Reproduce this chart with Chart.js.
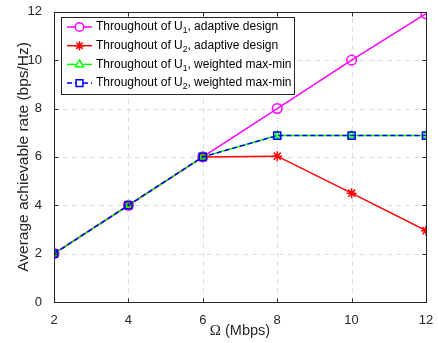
<!DOCTYPE html>
<html>
<head>
<meta charset="utf-8">
<script src="https://cdn.jsdelivr.net/npm/chart.js@4/dist/chart.umd.min.js"></script>
<style>
  html, body { margin: 0; padding: 0; background: #fff; }
  #wrap { width: 438px; height: 343px; }
</style>
</head>
<body>
<div id="wrap"><canvas id="c" width="438" height="343"></canvas></div>
<script>
// x values (Mbps) and rates (bps/Hz)
const omega = [2, 4, 6, 8, 10, 12];
const u1Adaptive = [2, 4, 6, 8, 10, 11.92];
const u2Adaptive = [2, 4, 6, 6.03, 4.5, 2.95];
const u1Weighted = [2, 4, 6, 6.88, 6.88, 6.88];
const u2Weighted = [2, 4, 6, 6.88, 6.88, 6.88];
const yTicks = [0, 2, 4, 6, 8, 10, 12];

const legendItems = [
  { user: '1', tail: ', adaptive design', color: '#ff00ff', marker: 'circle', r: 4.3, dash: [] },
  { user: '2', tail: ', adaptive design', color: '#ff0000', marker: 'star', r: 4.5, dash: [] },
  { user: '1', tail: ', weighted max-min', color: '#00ff00', marker: 'triangle', r: 4.5, dash: [] },
  { user: '2', tail: ', weighted max-min', color: '#0000ff', marker: 'rect', r: 4.8, dash: [5, 3] }
];

const FONT = '"Liberation Sans", Arial, Helvetica, sans-serif';
const SERIF = '"Liberation Serif", "Times New Roman", serif';

function pts(ys) {
  return omega.map((x, i) => ({ x: x, y: ys[i] }));
}

function series(ys, color, marker, radius, dash, order) {
  return {
    data: pts(ys),
    borderColor: color,
    backgroundColor: 'rgba(0,0,0,0)',
    borderWidth: 1.5,
    borderDash: dash,
    pointStyle: marker,
    pointRadius: radius,
    pointBorderColor: color,
    pointBorderWidth: 1.5,
    pointBackgroundColor: 'rgba(0,0,0,0)',
    tension: 0,
    order: order
  };
}

// dashed grid behind the lines
const gridPlugin = {
  id: 'dashGrid',
  beforeDatasetsDraw(chart) {
    const { ctx, chartArea: a, scales } = chart;
    ctx.save();
    ctx.strokeStyle = '#dedede';
    ctx.lineWidth = 1;
    ctx.setLineDash([5, 4]);
    ctx.beginPath();
    omega.forEach(v => {
      const x = Math.round(scales.x.getPixelForValue(v)) + 0.5;
      ctx.moveTo(x, a.bottom); ctx.lineTo(x, a.top);
    });
    yTicks.forEach(v => {
      const y = Math.round(scales.y.getPixelForValue(v)) + 0.5;
      ctx.moveTo(a.left, y); ctx.lineTo(a.right, y);
    });
    ctx.stroke();
    ctx.restore();
  }
};

// axes frame with inward ticks on all four sides, plus the x label
const framePlugin = {
  id: 'frame',
  afterDatasetsDraw(chart) {
    const { ctx, chartArea: a, scales } = chart;
    ctx.save();
    ctx.strokeStyle = '#262626';
    ctx.lineWidth = 1;
    ctx.setLineDash([]);
    const l = Math.round(a.left) + 0.5, r = Math.round(a.right) + 0.5;
    const t0 = Math.round(a.top) + 0.5, b = Math.round(a.bottom) + 0.5;
    ctx.strokeRect(l, t0, r - l, b - t0);
    const t = 4;
    ctx.beginPath();
    omega.forEach(v => {
      const x = Math.round(scales.x.getPixelForValue(v)) + 0.5;
      ctx.moveTo(x, b); ctx.lineTo(x, b - t);
      ctx.moveTo(x, t0); ctx.lineTo(x, t0 + t);
    });
    yTicks.forEach(v => {
      const y = Math.round(scales.y.getPixelForValue(v)) + 0.5;
      ctx.moveTo(l, y); ctx.lineTo(l + t, y);
      ctx.moveTo(r, y); ctx.lineTo(r - t, y);
    });
    ctx.stroke();

    // x label: serif Omega followed by the unit
    const sym = 'Ω', unit = ' (Mbps)';
    ctx.fillStyle = '#262626';
    ctx.textBaseline = 'alphabetic';
    ctx.font = '15px ' + SERIF;
    const w1 = ctx.measureText(sym).width;
    ctx.font = '14.5px ' + FONT;
    const w2 = ctx.measureText(unit).width;
    const cx = (a.left + a.right) / 2;
    let x = cx - (w1 + w2) / 2;
    const y = 335;
    ctx.font = '15px ' + SERIF;
    ctx.fillText(sym, x, y);
    ctx.font = '14.5px ' + FONT;
    ctx.fillText(unit, x + w1, y);
    ctx.restore();
  }
};

// legend box with subscripted user index
const legendPlugin = {
  id: 'subLegend',
  afterDraw(chart) {
    const ctx = chart.ctx;
    const bx = 61.5, by = 17.5, bw = 233, bh = 77;
    ctx.save();
    ctx.fillStyle = '#fff';
    ctx.fillRect(bx, by, bw, bh);
    ctx.strokeStyle = '#262626';
    ctx.lineWidth = 1;
    ctx.strokeRect(bx, by, bw, bh);
    const rowH = 18.7;
    legendItems.forEach((it, i) => {
      const y = by + 9.5 + i * rowH;
      ctx.strokeStyle = it.color;
      ctx.lineWidth = 1.5;
      ctx.setLineDash(it.dash);
      ctx.beginPath();
      ctx.moveTo(67, y); ctx.lineTo(92, y);
      ctx.stroke();
      ctx.setLineDash([]);
      ctx.fillStyle = '#fff';
      Chart.helpers.drawPoint(ctx, { pointStyle: it.marker, radius: it.r, borderWidth: 1.5 }, 79.5, y);
      ctx.fillStyle = '#000';
      ctx.textBaseline = 'middle';
      ctx.font = '12px ' + FONT;
      let x = 96;
      const head = 'Throughout of U';
      ctx.fillText(head, x, y);
      x += ctx.measureText(head).width;
      ctx.font = '8.5px ' + FONT;
      ctx.fillText(it.user, x, y + 4);
      x += ctx.measureText(it.user).width;
      ctx.font = '12px ' + FONT;
      ctx.fillText(it.tail, x, y);
    });
    ctx.restore();
  }
};

new Chart(document.getElementById('c'), {
  type: 'line',
  data: {
    datasets: [
      series(u1Adaptive, '#ff00ff', 'circle', 4.8, [], 3),
      series(u2Adaptive, '#ff0000', 'star', 5, [], 2),
      series(u1Weighted, '#00ff00', 'triangle', 4.3, [], 1),
      series(u2Weighted, '#0000ff', 'rect', 5, [5, 3], 0)
    ]
  },
  options: {
    responsive: false,
    animation: false,
    layout: { padding: { top: 10, right: 12, left: 0, bottom: 0 } },
    plugins: { legend: { display: false }, tooltip: { enabled: false } },
    scales: {
      x: {
        type: 'linear',
        min: 2, max: 12,
        afterBuildTicks(s) { s.ticks = omega.map(v => ({ value: v })); },
        afterFit(s) { s.height = 41; },
        grid: { display: false },
        border: { display: false },
        ticks: { color: '#262626', padding: 3, maxRotation: 0, font: { family: FONT, size: 13 } }
      },
      y: {
        type: 'linear',
        min: 0, max: 12,
        afterBuildTicks(s) { s.ticks = yTicks.map(v => ({ value: v })); },
        afterFit(s) { s.width = 54; },
        grid: { display: false },
        border: { display: false },
        ticks: { color: '#262626', padding: 4, font: { family: FONT, size: 13 } },
        title: { display: true, text: 'Average achievable rate (bps/Hz)', color: '#262626', padding: { top: 14, bottom: 0 }, font: { family: FONT, size: 15.5 } }
      }
    }
  },
  plugins: [gridPlugin, framePlugin, legendPlugin]
});
</script>
</body>
</html>
